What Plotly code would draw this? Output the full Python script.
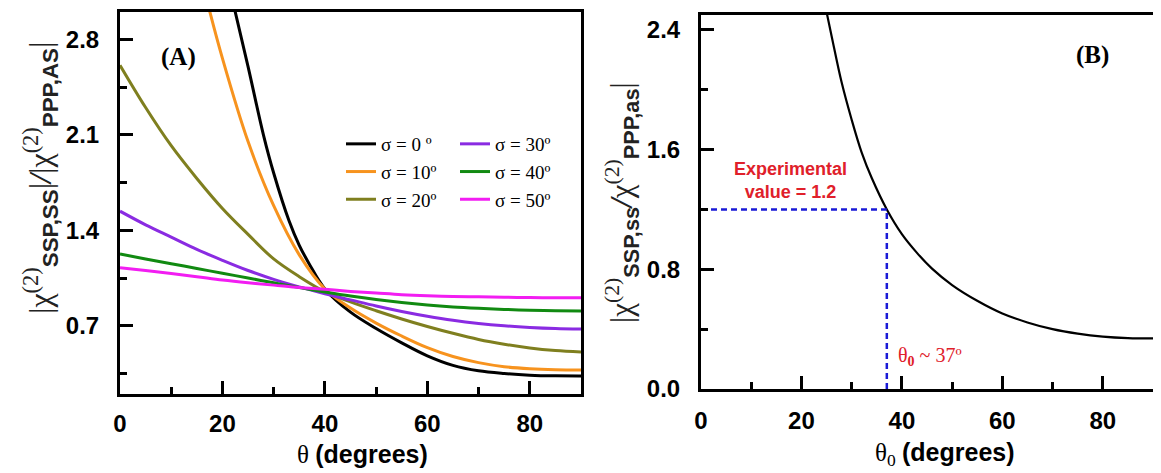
import plotly.graph_objects as go

W, H = 1161, 473
OFF = 8  # page body margin of the html page

# ---------------- Panel A data ----------------
theta_s0 = [22, 25, 28, 30, 33, 35, 37, 40, 45, 50, 55, 60, 65, 70, 75, 80, 85, 90]
ratio_s0 = [3.08, 2.6, 2.1, 1.82, 1.47, 1.29, 1.15, 0.97, 0.80, 0.68, 0.575, 0.48, 0.41, 0.37, 0.35, 0.338, 0.333, 0.332]

theta_s10 = [17, 20, 25, 30, 35, 40, 45, 50, 55, 60, 65, 70, 75, 80, 85, 90]
ratio_s10 = [3.08, 2.66, 2.05, 1.58, 1.22, 0.97, 0.83, 0.72, 0.625, 0.54, 0.475, 0.43, 0.40, 0.385, 0.378, 0.376]

theta_s20 = [0, 5, 10, 15, 20, 25, 30, 35, 40, 45, 50, 55, 60, 65, 70, 75, 80, 85, 90]
ratio_s20 = [2.61, 2.3, 2.02, 1.78, 1.56, 1.37, 1.19, 1.06, 0.95, 0.875, 0.81, 0.75, 0.695, 0.645, 0.60, 0.565, 0.537, 0.518, 0.507]

theta_s30 = [0, 5, 10, 15, 20, 25, 30, 35, 40, 45, 50, 55, 60, 65, 70, 75, 80, 85, 90]
ratio_s30 = [1.54, 1.44, 1.35, 1.26, 1.18, 1.105, 1.04, 0.985, 0.935, 0.89, 0.845, 0.805, 0.77, 0.74, 0.717, 0.70, 0.688, 0.68, 0.676]

theta_s40 = [0, 5, 10, 15, 20, 25, 30, 35, 40, 45, 50, 55, 60, 65, 70, 75, 80, 85, 90]
ratio_s40 = [1.226, 1.19, 1.155, 1.12, 1.085, 1.05, 1.015, 0.98, 0.948, 0.918, 0.892, 0.87, 0.852, 0.838, 0.828, 0.82, 0.814, 0.81, 0.808]

theta_s50 = [0, 5, 10, 15, 20, 25, 30, 35, 40, 45, 50, 55, 60, 65, 70, 75, 80, 85, 90]
ratio_s50 = [1.125, 1.105, 1.084, 1.06, 1.035, 1.015, 0.998, 0.98, 0.967, 0.952, 0.94, 0.928, 0.92, 0.915, 0.912, 0.909, 0.907, 0.906, 0.905]

sigma_labels = ["σ = 0 º", "σ = 10º", "σ = 20º", "σ = 30º", "σ = 40º", "σ = 50º"]
sigma_colors = ["#000000", "#f7931e", "#7f7f1f", "#8a2be2", "#118a11", "#f21df2"]

# ---------------- Panel B data ----------------
theta0_deg = [25, 26, 28, 30, 32, 34, 37, 40, 43, 46, 50, 55, 60, 65, 70, 75, 80, 85, 90]
ratio_b = [2.52, 2.36, 2.05, 1.80, 1.58, 1.41, 1.20, 1.035, 0.91, 0.805, 0.695, 0.59, 0.505, 0.445, 0.40, 0.37, 0.35, 0.34, 0.338]
exp_value = 1.2
theta0_est = 37

# ---------------- Layout helpers ----------------
def px_x(p):
    return (p - OFF) / W

def px_y(p):
    return 1 - (p - OFF) / H

A_series = [
    (theta_s0, ratio_s0), (theta_s10, ratio_s10), (theta_s20, ratio_s20),
    (theta_s30, ratio_s30), (theta_s40, ratio_s40), (theta_s50, ratio_s50),
]

fig = go.Figure()
for i, ((xs, ys), name, col) in enumerate(zip(A_series, sigma_labels, sigma_colors)):
    fig.add_trace(go.Scatter(
        x=xs, y=ys, mode="lines", name=name,
        line=dict(color=col, width=3, shape="spline", smoothing=1.0),
        xaxis="x", yaxis="y",
        legend="legend" if i < 3 else "legend2",
    ))

fig.add_trace(go.Scatter(
    x=theta0_deg, y=ratio_b, mode="lines", showlegend=False,
    line=dict(color="#000000", width=2.2, shape="spline", smoothing=1.0),
    xaxis="x2", yaxis="y2",
))
fig.add_trace(go.Scatter(
    x=[0, theta0_est], y=[exp_value, exp_value], mode="lines", showlegend=False,
    line=dict(color="#1a1ad6", width=2.5, dash="6px,4px"),
    xaxis="x2", yaxis="y2",
))
fig.add_trace(go.Scatter(
    x=[theta0_est, theta0_est], y=[0, exp_value], mode="lines", showlegend=False,
    line=dict(color="#1a1ad6", width=2.5, dash="6px,4px"),
    xaxis="x2", yaxis="y2",
))

tickfont = dict(family="Liberation Sans, Arial", size=24, color="black", weight="bold")

def axis_common():
    return dict(
        showline=True, linecolor="black", linewidth=3, mirror=True,
        ticks="inside", ticklen=13, tickwidth=3, tickcolor="black",
        showgrid=False, zeroline=False, tickfont=tickfont,
        minor=dict(ticks="inside", ticklen=7, tickwidth=3, tickcolor="black", showgrid=False),
    )

xa = axis_common(); xa.update(domain=[px_x(120), px_x(581)], range=[0, 90], tick0=0, dtick=20,
                               anchor="y", ticklabelstandoff=6)
xa["minor"].update(dtick=10, tick0=0)
ya = axis_common(); ya.update(domain=[px_y(394), px_y(12)], range=[0.2, 3.0], tick0=0, dtick=0.7,
                               tickformat=".1f", anchor="x", ticklabelstandoff=13)
ya["minor"].update(dtick=0.35, tick0=0)

xb = axis_common(); xb.update(domain=[px_x(701), px_x(1153)], range=[0, 90], tick0=0, dtick=20,
                               anchor="y2", ticklabelstandoff=8)
xb["minor"].update(dtick=10, tick0=0)
yb = axis_common(); yb.update(domain=[px_y(389), px_y(15)], range=[0, 2.5], tick0=0, dtick=0.8,
                               tickformat=".1f", anchor="x2", ticklabelstandoff=13)
yb["minor"].update(dtick=0.4, tick0=0)

serif = "Liberation Serif, Times New Roman, serif"
sans = "Liberation Sans, Arial, sans-serif"
red = "#e0202a"

legfont = dict(family=serif, size=19, color="black")

def ann(text, x, y, size, family=serif, color="black", angle=0):
    return dict(text=text, x=px_x(x), y=px_y(y), xref="paper", yref="paper",
                xanchor="center", yanchor="middle", showarrow=False, textangle=angle,
                align="center", font=dict(family=family, size=size, color=color))

SANS_B = '<span style="font-family:Liberation Sans, Arial"><b>%s</b></span>'

fig.update_layout(
    width=W, height=H,
    margin=dict(l=0, r=0, t=0, b=0, autoexpand=False),
    paper_bgcolor="white", plot_bgcolor="white",
    xaxis=xa, yaxis=ya, xaxis2=xb, yaxis2=yb,
    legend=dict(x=px_x(341), y=px_y(125), xanchor="left", yanchor="top",
                bgcolor="rgba(0,0,0,0)", font=legfont, tracegroupgap=0, itemwidth=30),
    legend2=dict(x=px_x(455), y=px_y(125), xanchor="left", yanchor="top",
                 bgcolor="rgba(0,0,0,0)", font=legfont, tracegroupgap=0, itemwidth=30),
    annotations=[
        ann("<b>(A)</b>", 178, 57, 25),
        ann("<b>(B)</b>", 1092, 55, 25),
        ann("<b>Experimental</b><br><b>value = 1.2</b>", 790, 181, 18, family=sans, color=red),
        ann("θ<sub><b>0</b></sub> ~ 37º", 930, 356, 20, color=red),
        ann("θ " + SANS_B % "(degrees)", 362, 454, 25),
        ann("θ<sub>0</sub> " + SANS_B % "(degrees)", 945, 454, 25),
        ann("|χ<sup>(2)</sup><sub>" + SANS_B % "SSP,SS" + "</sub>|<b><i>/</i></b>|χ<sup>(2)</sup><sub>"
            + SANS_B % "PPP,AS" + "</sub>|", 40, 178, 32, color="#222222", angle=-90),
        ann("|χ<sup>(2)</sup><sub>" + SANS_B % "SSP,ss" + "</sub><b><i>/</i></b>χ<sup>(2)</sup><sub>"
            + SANS_B % "PPP,as" + "</sub>|", 622, 203, 31, color="#222222", angle=-90),
    ],
)

fig.write_html("out.html")
